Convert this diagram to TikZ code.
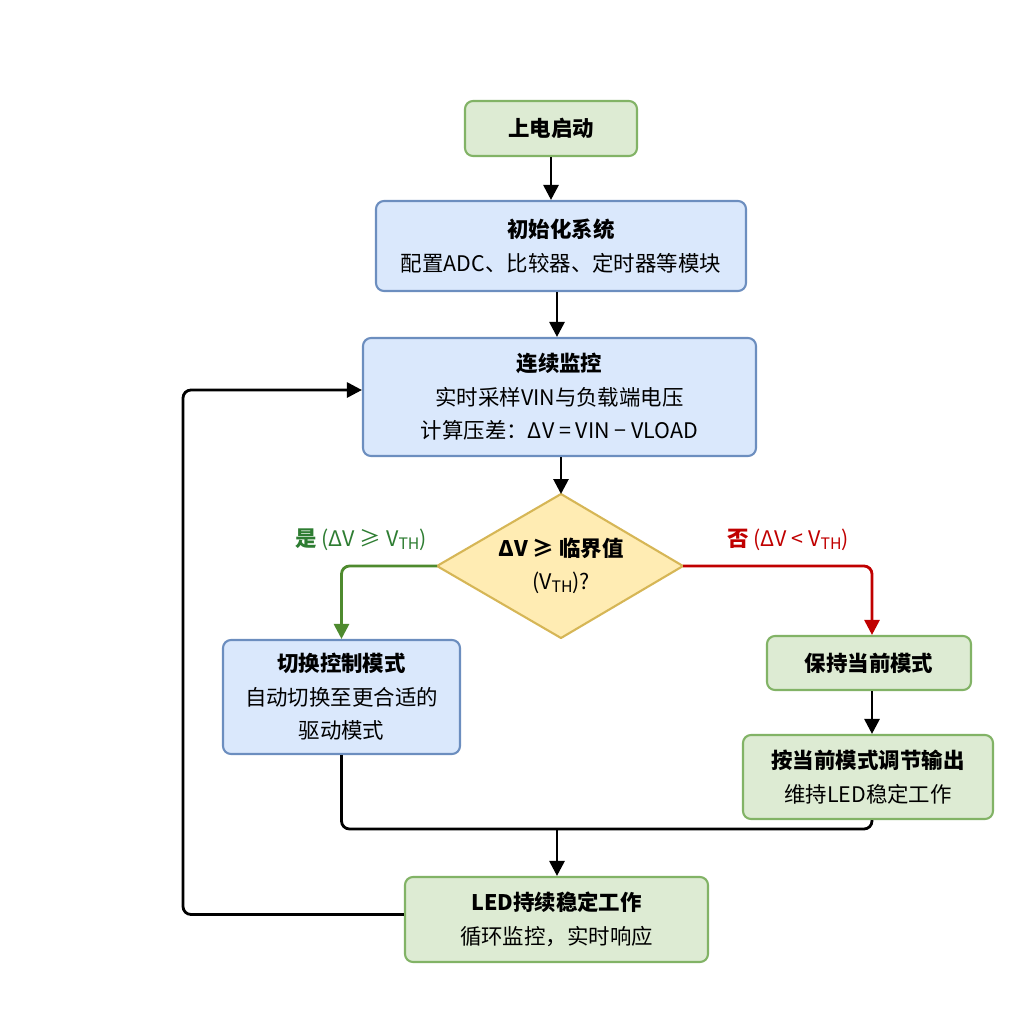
\documentclass[tikz,border=0pt]{standalone}
\usepackage{fontspec}
\setmainfont{Noto Sans CJK SC}
\usetikzlibrary{arrows.meta,calc}
\definecolor{gfill}{HTML}{DDEBD3}
\definecolor{gdraw}{HTML}{82B366}
\definecolor{bfill}{HTML}{DAE8FC}
\definecolor{bdraw}{HTML}{6C8EBF}
\definecolor{yfill}{HTML}{FFECB3}
\definecolor{ydraw}{HTML}{D6B656}
\definecolor{yesc}{HTML}{4E8A2E}
\definecolor{yest}{HTML}{2E7D32}
\definecolor{noc}{HTML}{C00000}
\newcommand{\vth}{V\raisebox{-0.2ex}{\fontsize{9}{9}\selectfont TH}}
\tikzset{
  box/.style={rectangle, rounded corners=0.16cm, line width=1.2pt, align=center, inner sep=0pt,
    font=\fontsize{12.2}{19}\selectfont},
  gbox/.style={box, fill=gfill, draw=gdraw},
  bbox/.style={box, fill=bfill, draw=bdraw},
  conn/.style={line width=1.6pt, rounded corners=0.16cm, -{Triangle[length=0.3cm,width=0.3cm]}},
  lineonly/.style={line width=1.6pt, rounded corners=0.16cm},
}
\begin{document}
\begin{tikzpicture}
\useasboundingbox (0,0) rectangle (20.48,-20.48);
\node[gbox, minimum width=3.44cm, minimum height=1.10cm] (start) at (11.02,-2.57) {\textbf{上电启动}};
\node[bbox, minimum width=7.40cm, minimum height=1.80cm] (init) at (11.22,-4.92) {\textbf{初始化系统}\\配置ADC、比较器、定时器等模块};
\node[bbox, minimum width=7.86cm, minimum height=2.36cm] (monitor) at (11.19,-7.94) {\textbf{连续监控}\\实时采样VIN与负载端电压\\计算压差：ΔV = VIN − VLOAD};
% diamond
\coordinate (dt) at (11.22,-9.88);
\coordinate (db) at (11.22,-12.76);
\coordinate (dl) at (8.74,-11.32);
\coordinate (dr) at (13.66,-11.32);
\draw[fill=yfill, draw=ydraw, line width=1.2pt, line join=round] (dt) -- (dr) -- (db) -- (dl) -- cycle;
\node[align=center, font=\fontsize{12.2}{19}\selectfont] (decide) at (11.22,-11.32) {\textbf{ΔV ≥ 临界值}\\(\vth)?};
\node[bbox, minimum width=4.74cm, minimum height=2.28cm] (switch) at (6.83,-13.94) {\textbf{切换控制模式}\\自动切换至更合适的\\驱动模式};
\node[gbox, minimum width=4.08cm, minimum height=1.08cm] (keep) at (17.38,-13.26) {\textbf{保持当前模式}};
\node[gbox, minimum width=5.00cm, minimum height=1.68cm] (adjust) at (17.36,-15.54) {\textbf{按当前模式调节输出}\\维持LED稳定工作};
\node[gbox, minimum width=6.06cm, minimum height=1.70cm] (led) at (11.13,-18.39) {\textbf{LED持续稳定工作}\\循环监控，实时响应};
% labels
\node[text=yest, font=\fontsize{12.2}{14}\selectfont] (yeslab) at (7.22,-10.8) {\textbf{是} (ΔV ≥ \vth)};
\node[text=noc, font=\fontsize{12.2}{14}\selectfont] (nolab) at (15.76,-10.8) {\textbf{否} (ΔV < \vth)};
% connectors
\draw[conn] (start.south) -- (start.south |- init.north);
\draw[conn] ($(init.south)+(-0.08,0)$) -- ($(init.south |- monitor.north)+(-0.08,0)$);
\draw[conn] ($(monitor.south)+(0.03,0)$) -- (dt);
\draw[conn, draw=yesc] (dl) -| (switch.north);
\draw[conn, draw=noc] (dr) -| ($(keep.north)+(0.06,0)$);
\draw[conn] ($(keep.south)+(0.06,0)$) -- ($(keep.south |- adjust.north)+(0.06,0)$);
\coordinate (m) at (11.14,-16.58);
\draw[lineonly] (switch.south) |- (m) -| ($(adjust.south)+(0.08,0)$);
\draw[conn] (m) -- (m |- led.north);
\coordinate (loopx) at (3.66,0);
\coordinate (monin) at ($(monitor.west)+(0,0.14)$);
\draw[conn] ($(led.west)+(0,0.1)$) -| (loopx |- monin) -- (monin);
\end{tikzpicture}
\end{document}
